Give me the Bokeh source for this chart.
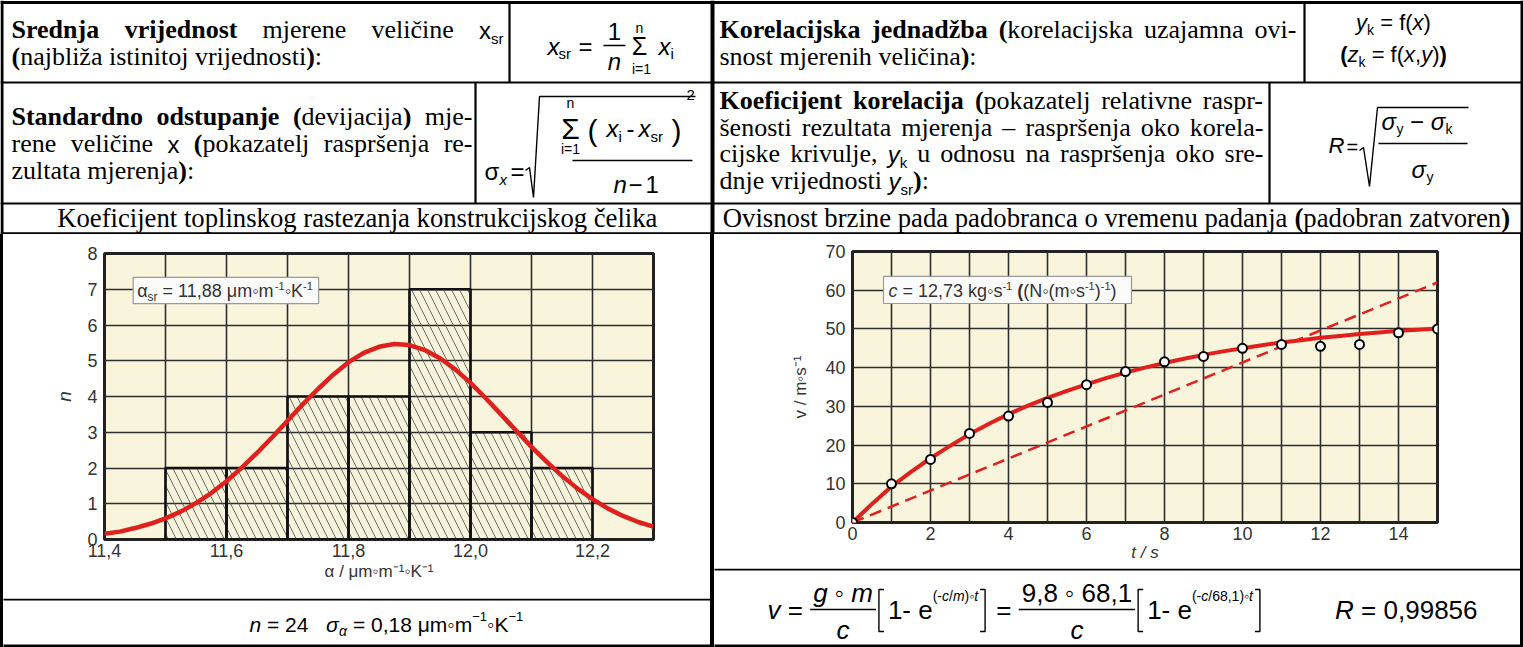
from bokeh.plotting import figure
from bokeh.models import Range1d, FixedTicker, ColumnDataSource, Div, CustomJSTickFormatter
from bokeh.layouts import row, column
from bokeh.embed import file_html
from bokeh.resources import INLINE
from bokeh.core.properties import value

# ======================= DATA =======================
# left chart: histogram of the thermal expansion coefficient
bin_left = [11.5, 11.6, 11.7, 11.8, 11.9, 12.0, 12.1]
bin_right = [11.6, 11.7, 11.8, 11.9, 12.0, 12.1, 12.2]
bin_count = [2, 2, 4, 4, 7, 3, 2]
gauss_alpha = [11.400, 11.425, 11.450, 11.475, 11.500, 11.525, 11.550, 11.575, 11.600,
               11.625, 11.650, 11.675, 11.700, 11.725, 11.750, 11.775, 11.800, 11.825,
               11.850, 11.875, 11.900, 11.925, 11.950, 11.975, 12.000, 12.025, 12.050,
               12.075, 12.100, 12.125, 12.150, 12.175, 12.200, 12.225, 12.250, 12.275, 12.300]
gauss_n = [0.16, 0.22, 0.32, 0.44, 0.59, 0.78, 1.02, 1.30, 1.63, 2.01, 2.42, 2.86, 3.32,
           3.78, 4.21, 4.61, 4.96, 5.22, 5.39, 5.47, 5.44, 5.30, 5.07, 4.76, 4.38, 3.95,
           3.50, 3.04, 2.59, 2.17, 1.78, 1.43, 1.13, 0.87, 0.66, 0.49, 0.36]
alpha_ticks = [11.4, 11.6, 11.8, 12.0, 12.2]
alpha_grid = [11.4, 11.5, 11.6, 11.7, 11.8, 11.9, 12.0, 12.1, 12.2, 12.3]
n_ticks = [0, 1, 2, 3, 4, 5, 6, 7, 8]

# right chart: parachutist velocity
t_meas = [0, 1, 2, 3, 4, 5, 6, 7, 8, 9, 10, 11, 12, 13, 14, 15]
v_meas = [0, 10.0, 16.3, 23.0, 27.5, 31.0, 35.6, 39.0, 41.5, 42.9, 45.0, 46.0, 45.5, 46.0, 49.0, 50.0]
t_fit = [0, 0.5, 1, 1.5, 2, 2.5, 3, 3.5, 4, 4.5, 5, 5.5, 6, 6.5, 7, 7.5, 8, 8.5, 9, 9.5,
         10, 10.5, 11, 11.5, 12, 12.5, 13, 13.5, 14, 14.5, 15]
v_fit = [0, 4.8, 9.3, 13.1, 16.6, 19.8, 22.8, 25.5, 28.0, 30.2, 32.2, 34.0, 35.7, 37.3,
         38.7, 40.0, 41.2, 42.3, 43.3, 44.2, 45.0, 45.8, 46.5, 47.1, 47.7, 48.2, 48.7,
         49.1, 49.5, 49.8, 50.1]
t_lin = [0, 15]
v_lin = [0, 62]
t_ticks = [0, 2, 4, 6, 8, 10, 12, 14]
t_grid = list(range(16))
v_ticks = [0, 10, 20, 30, 40, 50, 60, 70]

# texts
TITLE_LEFT = [("Koeficijent toplinskog rastezanja konstrukcijskog čelika", "T")]
TITLE_RIGHT = [("Ovisnost brzine pada padobranca o vremenu padanja ", "T"), ("(", "TB"),
               ("padobran zatvoren", "T"), (")", "TB")]
CELL_L1 = [[("Srednja vrijednost", "B"), (" mjerene veličine ", "R"), ("x", "S"), ("sr", "Ssub")],
           [("(", "B"), ("najbliža istinitoj vrijednosti", "R"), (")", "B"), (":", "R")]]
CELL_L2 = [[("Standardno odstupanje", "B"), (" ", "R"), ("(", "B"), ("devijacija", "R"), (")", "B"), (" mje-", "R")],
           [("rene veličine ", "R"), ("x", "S"), (" ", "R"), ("(", "B"), ("pokazatelj raspršenja re-", "R")],
           [("zultata mjerenja", "R"), (")", "B"), (":", "R")]]
CELL_R1 = [[("Korelacijska jednadžba", "B"), (" ", "R"), ("(", "B"), ("korelacijska uzajamna ovi-", "R")],
           [("snost mjerenih veličina", "R"), (")", "B"), (":", "R")]]
CELL_R2 = [[("Koeficijent korelacija", "B"), (" ", "R"), ("(", "B"), ("pokazatelj relativne raspr-", "R")],
           [("šenosti rezultata mjerenja – raspršenja oko korela-", "R")],
           [("cijske krivulje, ", "R"), ("y", "SI"), ("k", "Ssub"), (" u odnosu na raspršenja oko sre-", "R")],
           [("dnje vrijednosti ", "R"), ("y", "SI"), ("sr", "Ssub"), (")", "B"), (":", "R")]]
BOTTOM_LEFT = [("n", "FI21"), (" = 24", "F21"), ("   ", "F21"), ("σ", "FI21"), ("α", "SubI14"),
               (" = 0,18 μm◦m", "F21"), ("−1", "Sup13"), ("◦K", "F21"), ("−1", "Sup13")]
LEFT_BOX = [("α", "C"), ("sr", "Csub"), (" = 11,88 μm◦m", "C"), ("-1", "Csup"), ("◦K", "C"), ("-1", "Csup")]
RIGHT_BOX = [("c", "CI"), (" = 12,73 kg◦s", "C"), ("-1", "Csup"), (" ", "C"), ("(", "CB"), ("(N◦(m◦s", "C"),
             ("-1", "Csup"), (")", "C"), ("-1", "Csup"), (")", "C")]

# ======================= FONTS / METRICS =======================
SERIF = "Liberation Serif"
SANS = "Liberation Sans"
FONTS = {
    "R": (SERIF, "normal", 26, 0), "B": (SERIF, "bold", 26, 0),
    "T": (SERIF, "normal", 26.7, 0), "TB": (SERIF, "bold", 26.7, 0),
    "S": (SANS, "normal", 24, 0), "SI": (SANS, "italic", 24, 0), "Ssub": (SANS, "normal", 15, 5),
    "F14": (SANS, "normal", 14, 0), "F15": (SANS, "normal", 15, 0), "FI15": (SANS, "italic", 15, 0),
    "F20": (SANS, "normal", 20, 0),
    "F21": (SANS, "normal", 21, 0), "FI21": (SANS, "italic", 21, 0),
    "F22": (SANS, "normal", 22, 0), "FI22": (SANS, "italic", 22, 0),
    "FB22": (SANS, "bold", 22, 0), "F24": (SANS, "normal", 24, 0), "FI24": (SANS, "italic", 24, 0),
    "F25": (SANS, "normal", 25, 0),
    "F26": (SANS, "normal", 26, 0), "FI26": (SANS, "italic", 26, 0), "F30": (SANS, "normal", 30, 0),
    "Sub14": (SANS, "normal", 14, 5), "SubI14": (SANS, "italic", 14, 5), "Sup13": (SANS, "normal", 13, -10),
    "E14": (SANS, "normal", 14, -17), "EI14": (SANS, "italic", 14, -17),
    "C": (SANS, "normal", 18, 0), "CI": (SANS, "italic", 18, 0), "CB": (SANS, "bold", 18, 0),
    "Csub": (SANS, "normal", 12, 4), "Csup": (SANS, "normal", 11, -7),
}
BASELINE_K = 0.30  # renderer places the "alphabetic" line this fraction of the size too low
SERIF_R = {' ': .25, '(': .333, ')': .333, '-': .333, ':': .278, ',': .25, '.': .25, '–': .5,
           'a': .444, 'b': .5, 'c': .444, 'd': .5, 'e': .444, 'f': .333, 'g': .5, 'h': .5, 'i': .278,
           'j': .278, 'k': .5, 'l': .278, 'm': .778, 'n': .5, 'o': .5, 'p': .5, 'q': .5, 'r': .333,
           's': .389, 't': .278, 'u': .5, 'v': .5, 'w': .722, 'x': .5, 'y': .5, 'z': .444,
           'š': .389, 'č': .444, 'ž': .444, 'ć': .444, 'K': .722, 'S': .556, 'O': .722}
SERIF_B = {' ': .25, '(': .333, ')': .333, '-': .333, ':': .333, ',': .25,
           'a': .5, 'b': .556, 'c': .444, 'd': .556, 'e': .444, 'f': .333, 'g': .5, 'h': .556, 'i': .278,
           'j': .333, 'k': .556, 'l': .278, 'm': .833, 'n': .556, 'o': .5, 'p': .556, 'r': .444,
           's': .389, 't': .333, 'u': .556, 'v': .5, 'w': .722, 'x': .5, 'y': .5, 'z': .444,
           'ž': .444, 'K': .778, 'S': .556}
SANS_W = {' ': .278, '(': .333, ')': .333, ',': .278, '-': .333, '.': .278, '/': .278, '=': .584,
          '−': .584, '◦': .354, 'μ': .576, 'α': .578, 'σ': .62, 'Σ': .65,
          'a': .556, 'c': .5, 'e': .556, 'f': .278, 'g': .556, 'i': .222, 'k': .5, 'm': .833,
          'n': .556, 'r': .333, 's': .5, 't': .278, 'v': .5, 'x': .5, 'y': .5, 'z': .5,
          'K': .667, 'N': .722, 'R': .722}
for d in "0123456789":
    SANS_W[d] = .556
NBSP = "\u00a0"


def tw(text, fk):
    fam, sty, size, dy = FONTS[fk]
    if fam == SERIF:
        tab = SERIF_B if sty == "bold" else SERIF_R
    else:
        tab = SANS_W
    return sum(tab.get(ch, 0.55) for ch in text) * size


class TextBatch:
    def __init__(self, sx, sy):
        self.sx, self.sy = sx, sy
        self.groups = {}

    def add(self, x, y, text, fk, align="left", color="black"):
        fam, sty, size, dy = FONTS[fk]
        g = self.groups.setdefault((fam, sty, size, align, color), {"x": [], "y": [], "text": []})
        g["x"].append(x)
        g["y"].append(y + (dy - BASELINE_K * size) * self.sy)
        g["text"].append(text.replace(" ", NBSP))

    def runs(self, runs, x, y, color="black"):
        for text, fk in runs:
            if text.strip():
                self.add(x, y, text, fk, color=color)
            x += tw(text, fk) * self.sx
        return x

    def width(self, runs):
        return sum(tw(t, f) for t, f in runs) * self.sx

    def centered(self, runs, cx, y, color="black"):
        return self.runs(runs, cx - self.width(runs) / 2, y, color)

    def para_line(self, runs, x0, x1, y, justify):
        words, cur = [], []
        for text, fk in runs:
            for i, part in enumerate(text.split(" ")):
                if i > 0 and cur:
                    words.append(cur)
                    cur = []
                if part:
                    cur.append((part, fk))
        if cur:
            words.append(cur)
        widths = [sum(tw(t, f) for t, f in w) for w in words]
        gap = tw(" ", "R")
        if justify and len(words) > 1:
            gap = ((x1 - x0) / self.sx - sum(widths)) / (len(words) - 1)
        x = x0
        for w, wd in zip(words, widths):
            self.runs(w, x, y)
            x += (wd + gap) * self.sx

    def render(self, p):
        for (fam, sty, size, align, color), g in self.groups.items():
            p.text(x="x", y="y", text="text", source=ColumnDataSource(g),
                   text_font=value(fam), text_font_style=sty, text_font_size=f"{size}px",
                   text_align=align, text_baseline="alphabetic", text_color=color)


# ======================= PAGE GEOMETRY (1 unit = 1 px) =======================
def canvas(w, h, x0, y0):
    p = figure(width=w, height=h, x_range=Range1d(x0, x0 + w), y_range=Range1d(y0 + h, y0),
               output_backend="svg", toolbar_location=None, min_border=0,
               x_axis_location=None, y_axis_location=None)
    p.frame_align = False
    p.grid.visible = False
    p.outline_line_color = None
    p.background_fill_color = "white"
    p.border_fill_color = "white"
    return p


def draw_lines(p, segs):
    p.segment(x0=[s[0] for s in segs], y0=[s[1] for s in segs], x1=[s[2] for s in segs],
              y1=[s[3] for s in segs], line_width=[s[4] for s in segs], line_color="black")


# ----------------------- top canvas -----------------------
top = canvas(1523, 234, 0, 0)
tb = TextBatch(1, 1)
draw_lines(top, [
    (0, 2, 1523, 2, 3), (1.5, 0, 1.5, 234, 3), (1521.5, 0, 1521.5, 234, 3), (712, 0, 712, 234, 4),
    (0, 82, 1523, 82, 2.2), (0, 203, 1523, 203, 2.2), (0, 233, 1523, 233, 2.6),
    (509, 2, 509, 82, 2.2), (475, 82, 475, 203, 2.2), (1304, 2, 1304, 82, 2.2), (1269, 82, 1269, 203, 2.2),
])
for i, (ln, base) in enumerate(zip(CELL_L1, [37, 64])):
    tb.para_line(ln, 11, 503, base, i < len(CELL_L1) - 1)
for i, (ln, base) in enumerate(zip(CELL_L2, [124, 151, 178])):
    tb.para_line(ln, 11, 472, base, i < len(CELL_L2) - 1)
for i, (ln, base) in enumerate(zip(CELL_R1, [37, 64])):
    tb.para_line(ln, 719, 1296, base, i < len(CELL_R1) - 1)
for i, (ln, base) in enumerate(zip(CELL_R2, [108, 135, 161, 188])):
    tb.para_line(ln, 719, 1263, base, i < len(CELL_R2) - 1)
tb.centered(TITLE_LEFT, 357, 226)
tb.centered(TITLE_RIGHT, 1116, 226)

# formula cells: x_sr = 1/n sum x_i ; sigma_x ; R
for x, y, t, fk, al in [(547, 53, "x", "FI24", "left"), (558, 57, "sr", "F15", "left"),
                        (578, 53, "=", "F24", "left"), (614, 38, "1", "F24", "center"),
                        (614, 68, "n", "FI24", "center"), (639, 32, "n", "F14", "center"),
                        (639, 53, "Σ", "F25", "center"), (641, 73, "i=1", "F14", "center"),
                        (658, 53, "x", "FI24", "left"), (670, 57, "i", "F15", "left"),
                        (484, 178, "σ", "F24", "left"), (499, 183, "x", "FI15", "left"),
                        (510, 178, "=", "F24", "left"), (570, 107, "n", "F14", "center"),
                        (570, 137, "Σ", "F30", "center"), (570, 153, "i=1", "F14", "center"),
                        (592, 139, "(", "F30", "center"), (606, 135, "x", "FI24", "left"),
                        (618, 140, "i", "F15", "left"), (626, 135, "-", "F24", "left"),
                        (638, 135, "x", "FI24", "left"), (650, 140, "sr", "F15", "left"),
                        (676, 139, ")", "F30", "center"), (686, 99, "2", "F15", "left"),
                        (613, 191, "n", "FI24", "left"), (628, 191, "−", "F24", "left"),
                        (645, 191, "1", "F24", "left"),
                        (1328, 152, "R", "FI22", "left"), (1346, 152, "=", "F20", "left")]:
    tb.add(x, y, t, fk, align=al)
tb.centered([("y", "FI22"), ("k", "Sub14"), (" = f(", "F22"), ("x", "FI22"), (")", "F22")], 1393, 29)
tb.centered([("(", "FB22"), ("z", "FI22"), ("k", "Sub14"), (" = f(", "F22"), ("x", "FI22"), (",", "F22"),
             ("y", "FI22"), (")", "F22"), (")", "FB22")], 1393, 61)
tb.runs([("σ", "FI24"), ("y", "Sub14"), (" − ", "F24"), ("σ", "FI24"), ("k", "Sub14")], 1381, 128)
tb.centered([("σ", "FI24"), ("y", "Sub14")], 1422, 176)
strokes = [([603, 625], [45, 45]),
           ([525, 529, 533, 539, 695], [170, 167, 197, 96, 96]), ([572, 692], [160, 160]),
           ([1359, 1363, 1369, 1377, 1468], [150, 147, 186, 107, 107]), ([1378, 1467], [143, 143])]
top.multi_line(xs=[s[0] for s in strokes], ys=[s[1] for s in strokes], line_color="black", line_width=1.4)
tb.render(top)

# ----------------------- bottom-left canvas -----------------------
bl = canvas(707, 49, 3, 598)
tbl = TextBatch(1, 1)
draw_lines(bl, [(0, 599, 720, 599, 2.2), (0, 645.5, 720, 645.5, 3)])
tbl.runs(BOTTOM_LEFT, 249, 630)
tbl.render(bl)

# ----------------------- bottom-right canvas -----------------------
br = canvas(806, 79, 714, 568)
tbr = TextBatch(1, 1)
draw_lines(br, [(700, 569, 1530, 569, 2.2), (700, 645.5, 1530, 645.5, 3)])
rstrokes = []


def fraction(tbx, num, den, x, base):
    wn, wd = tbx.width(num), tbx.width(den)
    W = max(wn, wd) + 6
    tbx.centered(num, x + W / 2, base - 17)
    tbx.centered(den, x + W / 2, base + 20)
    rstrokes.append(([x, x + W], [base - 8, base - 8]))
    return x + W + 3


def bracket(x, base, opening):
    t, b = base - 28, base + 14
    if opening:
        rstrokes.append(([x + 5, x, x, x + 5], [t, t, b, b]))
    else:
        rstrokes.append(([x, x + 5, x + 5, x], [t, t, b, b]))
    return x + 9


BASE = 617
cx = tbr.runs([("v", "FI26"), (" = ", "F26")], 767, BASE)
cx = fraction(tbr, [("g", "FI26"), (" ◦ ", "F26"), ("m", "FI26")], [("c", "FI26")], cx, BASE)
cx = bracket(cx, BASE, True)
cx = tbr.runs([("1- e", "F26"), ("(-", "E14"), ("c", "EI14"), ("/", "E14"), ("m", "EI14"), (")◦", "E14"),
               ("t", "EI14")], cx, BASE)
cx = bracket(cx + 2, BASE, False)
cx = tbr.runs([(" = ", "F26")], cx, BASE)
cx = fraction(tbr, [("9,8", "F26"), (" ◦ ", "F26"), ("68,1", "F26")], [("c", "FI26")], cx, BASE)
cx = bracket(cx, BASE, True)
cx = tbr.runs([("1- e", "F26"), ("(-", "E14"), ("c", "EI14"), ("/68,1)◦", "E14"), ("t", "EI14")], cx, BASE)
cx = bracket(cx + 2, BASE, False)
r_runs = [("R", "FI26"), (" = 0,99856", "F26")]
tbr.runs(r_runs, 1477 - tbr.width(r_runs), BASE)
br.multi_line(xs=[s[0] for s in rstrokes], ys=[s[1] for s in rstrokes], line_color="black", line_width=1.4)
tbr.render(br)


# ----------------------- charts -----------------------
def chart(w, h, b_l, b_r, b_t, b_b, xr, yr):
    p = figure(width=w, height=h, x_range=Range1d(*xr), y_range=Range1d(*yr),
               output_backend="svg", toolbar_location=None,
               min_border_left=b_l, min_border_right=b_r, min_border_top=b_t, min_border_bottom=b_b)
    p.frame_align = False
    p.background_fill_color = "#F8F5DC"
    p.border_fill_color = "white"
    p.outline_line_color = "#222222"
    p.outline_line_width = 3
    for ax in (p.xaxis[0], p.yaxis[0]):
        ax.axis_line_color = None
        ax.major_tick_line_color = None
        ax.minor_tick_line_color = None
        ax.major_tick_out = 0
        ax.major_tick_in = 0
        ax.minor_tick_out = 0
        ax.minor_tick_in = 0
        ax.major_label_text_font = SANS
        ax.major_label_text_font_size = "18px"
        ax.major_label_text_color = "#333333"
        ax.axis_label_text_font = SANS
        ax.axis_label_text_font_size = "17px"
        ax.axis_label_text_color = "#333333"
        ax.axis_label_text_font_style = "normal"
    p.grid.grid_line_color = "#2e2e2e"
    p.grid.grid_line_width = 1.6
    return p


# left chart: frame 549 x 286
LW, LH, LBL, LBR, LBT, LBB = 707, 364, 101, 57, 19, 59
lc = chart(LW, LH, LBL, LBR, LBT, LBB, (11.4, 12.3), (0, 8))
lc.xaxis.ticker = FixedTicker(ticks=alpha_ticks)
lc.xaxis.formatter = CustomJSTickFormatter(code="return tick.toFixed(1).replace('.', ',');")
lc.yaxis.ticker = FixedTicker(ticks=n_ticks)
lc.xgrid.ticker = FixedTicker(ticks=alpha_grid)
lc.ygrid.ticker = FixedTicker(ticks=n_ticks)
lc.xaxis.axis_label = "α / μm◦m⁻¹◦K⁻¹"
lc.yaxis.axis_label = "n"
lc.yaxis.axis_label_text_font_style = "italic"
lc.yaxis.axis_label_text_font_size = "19px"
lc.xaxis.major_label_standoff = 4
lc.xaxis.axis_label_standoff = 2
lc.yaxis.major_label_standoff = 7
lc.yaxis.axis_label_standoff = 9
lc.quad(left=bin_left, right=bin_right, top=bin_count, bottom=0, fill_color=None,
        hatch_pattern="left_diagonal_line", hatch_color="#555555", hatch_weight=1,
        hatch_scale=16, hatch_alpha=0.85, line_color="#111111", line_width=2.6)
lc.line(gauss_alpha, gauss_n, line_color="#E0201C", line_width=4.5)
lsx = 0.9 / (LW - LBL - LBR)
lsy = -8 / (LH - LBT - LBB)
lc.quad(left=[11.447], right=[11.751], bottom=[6.60], top=[7.33], fill_color="#FBFBF9",
        line_color="#9A9A9A", line_width=1.2)
ltb = TextBatch(lsx, lsy)
ltb.runs(LEFT_BOX, 11.447 + 4 * lsx, 6.79, color="#333333")
ltb.render(lc)

# right chart: frame 585 x 271
RW, RH, RBL, RBR, RBT, RBB = 806, 334, 138, 83, 17, 46
rc = chart(RW, RH, RBL, RBR, RBT, RBB, (0, 15), (0, 70))
rc.xaxis.ticker = FixedTicker(ticks=t_ticks)
rc.yaxis.ticker = FixedTicker(ticks=v_ticks)
rc.xgrid.ticker = FixedTicker(ticks=t_grid)
rc.ygrid.ticker = FixedTicker(ticks=v_ticks)
rc.xaxis.axis_label = "t / s"
rc.xaxis.axis_label_text_font_style = "italic"
rc.yaxis.axis_label = "v / m◦s⁻¹"
rc.xaxis.major_label_standoff = 4
rc.xaxis.axis_label_standoff = 0
rc.yaxis.major_label_standoff = 7
rc.yaxis.axis_label_standoff = 12
rc.line(t_lin, v_lin, line_color="#E0201C", line_width=2.5, line_dash="12 7")
rc.line(t_fit, v_fit, line_color="#E0201C", line_width=4)
rc.scatter(t_meas, v_meas, marker="circle", size=9, fill_color="white", line_color="black", line_width=2)
rsx = 15 / (RW - RBL - RBR)
rsy = -70 / (RH - RBT - RBB)
rc.quad(left=[0.795], right=[7.154], bottom=[56.57], top=[63.55], fill_color="#FBFBF9",
        line_color="#9A9A9A", line_width=1.2)
rtb = TextBatch(rsx, rsy)
rtb.runs(RIGHT_BOX, 0.795 + 5 * rsx, 58.4, color="#333333")
rtb.render(rc)


def vbar(w, h):
    return Div(text="", width=w, height=h, margin=0, styles={"background-color": "black"})


bottom = row(vbar(3, 413), column(lc, bl), vbar(4, 413), column(rc, br), vbar(3, 413))
page = column(top, bottom)
open("out.html", "w").write(file_html(page, INLINE))
